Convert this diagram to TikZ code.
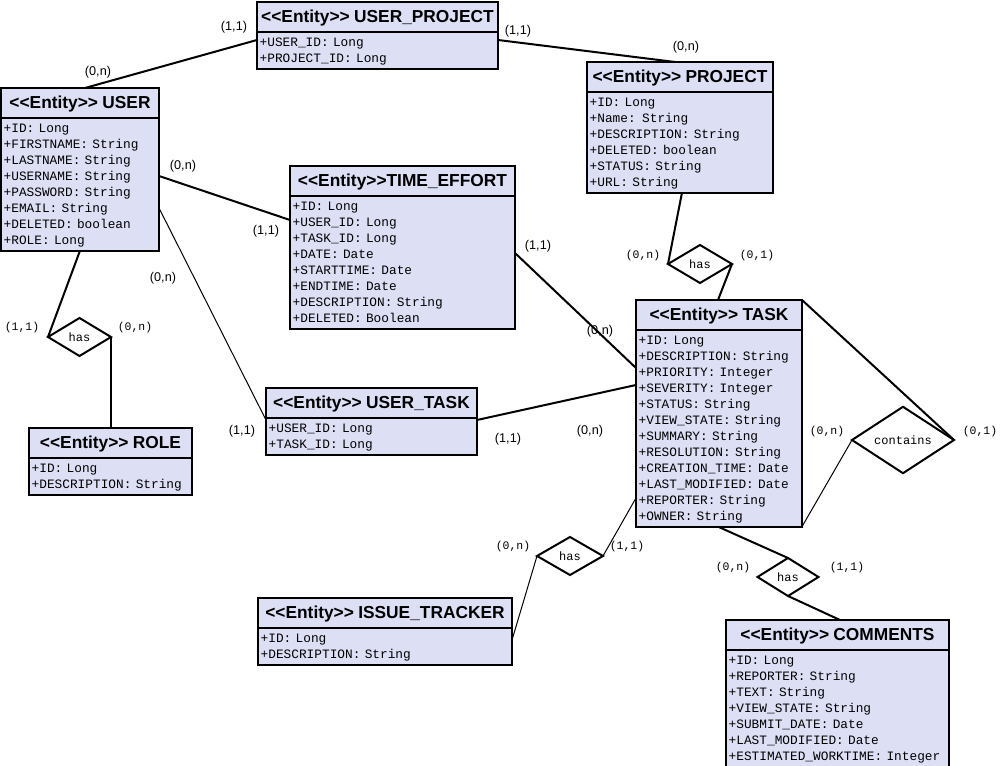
\documentclass[tikz,border=0pt]{standalone}
\usepackage{fontspec}
\setmainfont{Liberation Sans}
\setmonofont{Liberation Mono}
\newfontfamily\headfont{Liberation Sans}[Ligatures=TeXOff]
\usepackage{tikz}
\usetikzlibrary{shapes.geometric, shapes.multipart, positioning, calc}

\definecolor{entfill}{RGB}{221,224,245}

% title row and attribute rows of an entity box
\newcommand{\hd}[1]{\noindent\hbox to \hsize{\hfil\headfont\bfseries\fontsize{13}{15}\selectfont\rule[-5pt]{0pt}{19pt}#1\hfil}}
\newcommand{\rows}[1]{\noindent\rule{0pt}{9.5pt}#1\rule[-2.5pt]{0pt}{0pt}}

\begin{document}
\begin{tikzpicture}[
        x=0.75pt, y=-0.75pt,
        entity/.style={draw, line width=1.5pt, fill=entfill, rectangle split, rectangle split parts=2,
            anchor=north west, inner xsep=2pt, inner ysep=1pt, outer sep=0pt, align=left,
            font=\ttfamily\fontsize{9.6}{12}\selectfont},
        relationship/.style={draw, diamond, line width=1.5pt, fill=white, inner sep=0pt, outer sep=0pt,
            minimum height=28.5pt, font=\ttfamily\fontsize{9}{10}\selectfont},
        conn/.style={line width=1.5pt},
        thinconn/.style={line width=0.75pt},
        card/.style={inner sep=0pt, font=\fontsize{9.5}{11}\selectfont},
        cardm/.style={inner sep=0pt, font=\ttfamily\fontsize{8.6}{10}\selectfont}
    ]
    \useasboundingbox (0,0) rectangle (1001,766);

    % --- Entities ---
    \node[entity, text width=176.75pt] (userproject) at (257,2)
        {\hd{<<Entity>> USER\_PROJECT}\nodepart{two}\rows{+USER\_ID: Long\\+PROJECT\_ID: Long}};
    \node[entity, text width=114.5pt] (user) at (1,88)
        {\hd{<<Entity>> USER}\nodepart{two}\rows{+ID: Long\\+FIRSTNAME: String\\+LASTNAME: String\\+USERNAME: String\\+PASSWORD: String\\+EMAIL: String\\+DELETED: boolean\\+ROLE: Long}};
    \node[entity, text width=135.5pt] (project) at (587,62)
        {\hd{<<Entity>> PROJECT}\nodepart{two}\rows{+ID: Long\\+Name: String\\+DESCRIPTION: String\\+DELETED: boolean\\+STATUS: String\\+URL: String}};
    \node[entity, text width=164.75pt] (timeeffort) at (290,166)
        {\hd{<<Entity>>TIME\_EFFORT}\nodepart{two}\rows{+ID: Long\\+USER\_ID: Long\\+TASK\_ID: Long\\+DATE: Date\\+STARTTIME: Date\\+ENDTIME: Date\\+DESCRIPTION: String\\+DELETED: Boolean}};
    \node[entity, text width=120.5pt] (task) at (636,300)
        {\hd{<<Entity>> TASK}\nodepart{two}\rows{+ID: Long\\+DESCRIPTION: String\\+PRIORITY: Integer\\+SEVERITY: Integer\\+STATUS: String\\+VIEW\_STATE: String\\+SUMMARY: String\\+RESOLUTION: String\\+CREATION\_TIME: Date\\+LAST\_MODIFIED: Date\\+REPORTER: String\\+OWNER: String}};
    \node[entity, text width=154.25pt] (usertask) at (266,388)
        {\hd{<<Entity>> USER\_TASK}\nodepart{two}\rows{+USER\_ID: Long\\+TASK\_ID: Long}};
    \node[entity, text width=118.25pt] (role) at (29,428)
        {\hd{<<Entity>> ROLE}\nodepart{two}\rows{+ID: Long\\+DESCRIPTION: String}};
    \node[entity, text width=186.5pt] (issuetracker) at (258,598)
        {\hd{<<Entity>> ISSUE\_TRACKER}\nodepart{two}\rows{+ID: Long\\+DESCRIPTION: String}};
    \node[entity, text width=163.25pt] (comments) at (726,620)
        {\hd{<<Entity>> COMMENTS}\nodepart{two}\rows{+ID: Long\\+REPORTER: String\\+TEXT: String\\+VIEW\_STATE: String\\+SUBMIT\_DATE: Date\\+LAST\_MODIFIED: Date\\+ESTIMATED\_WORKTIME: Integer}};

    % --- Relationships ---
    \node[relationship, minimum width=47.25pt] (hasrole) at (79.5,337) {has};
    \node[relationship, minimum width=48pt] (hasproject) at (700,264) {has};
    \node[relationship, minimum width=76.5pt, minimum height=45pt] (contains) at (903,440) {contains};
    \node[relationship, minimum width=49.5pt] (hastracker) at (570,556) {has};
    \node[relationship, minimum width=45.75pt] (hascomments) at (788,577) {has};

    % --- Edges ---
    \draw[conn] ([xshift=63pt]user.north west) -- ([yshift=-28.5pt]userproject.north west);
    \draw[conn] ([yshift=-28.5pt]userproject.north east) -- ([xshift=66pt]project.north west);
    \draw[conn] ([yshift=-66pt]user.north east) -- ([yshift=-40.5pt]timeeffort.north west);
    \draw[thinconn] ([yshift=-90pt]user.north east) -- ([yshift=-24pt]usertask.north west);
    \draw[conn] ([xshift=59.25pt]user.south west) -- (hasrole.west);
    \draw[conn] (hasrole.east) -- (hasrole.east |- role.north);
    \draw[conn] ([xshift=71.25pt]project.south west) -- (hasproject.west);
    \draw[conn] (hasproject.east) -- ([xshift=61.5pt]task.north west);
    \draw[conn] ([yshift=-65.25pt]timeeffort.north east) -- ([yshift=-51pt]task.north west);
    \draw[conn] ([yshift=-24pt]usertask.north east) -- ([yshift=-63.75pt]task.north west);
    \draw[conn] (task.north east) -- (contains.east);
    \draw[thinconn] (task.south east) -- (contains.west);
    \draw[thinconn] ([yshift=-148.5pt]task.north west) -- (hastracker.east);
    \draw[thinconn] (hastracker.west) -- ([yshift=-31.5pt]issuetracker.north east);
    \draw[conn] ([xshift=61.5pt]task.south west) -- (hascomments.north);
    \draw[conn] (hascomments.south) -- ([xshift=85.5pt]comments.north west);

    % --- Cardinalities ---
    \node[card] (card1) at (234,27) {(1,1)};
    \node[card] (card2) at (98,72) {(0,n)};
    \node[card] (card3) at (518,31) {(1,1)};
    \node[card] (card4) at (686,47) {(0,n)};
    \node[card] (card5) at (183,166) {(0,n)};
    \node[card] (card6) at (266,231) {(1,1)};
    \node[card] (card7) at (163,278) {(0,n)};
    \node[card] (card8) at (242,431) {(1,1)};
    \node[cardm] (card9) at (22,328) {(1,1)};
    \node[cardm] (card10) at (135,328) {(0,n)};
    \node[cardm] (card11) at (643,256) {(0,n)};
    \node[cardm] (card12) at (757,256) {(0,1)};
    \node[card] (card13) at (538,246) {(1,1)};
    \node[card] (card14) at (600,331) {(0,n)};
    \node[card] (card15) at (508,439) {(1,1)};
    \node[card] (card16) at (590,431) {(0,n)};
    \node[cardm] (card17) at (827,432) {(0,n)};
    \node[cardm] (card18) at (980,432) {(0,1)};
    \node[cardm] (card19) at (513,547) {(0,n)};
    \node[cardm] (card20) at (627,547) {(1,1)};
    \node[cardm] (card21) at (733,568) {(0,n)};
    \node[cardm] (card22) at (847,568) {(1,1)};

\end{tikzpicture}
\end{document}
